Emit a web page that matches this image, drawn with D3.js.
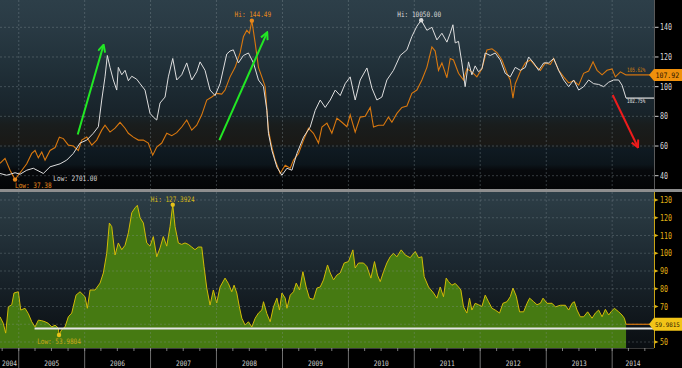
<!DOCTYPE html>
<html><head><meta charset="utf-8">
<script src="https://cdn.jsdelivr.net/npm/d3@7"></script>
<style>html,body{margin:0;padding:0;background:#000;overflow:hidden}</style>
</head><body><svg id="c" width="682" height="368"></svg>
<script>
// ---------------- DATA ----------------
const yearTicks = [2004,2005,2006,2007,2008,2009,2010,2011,2012,2013,2014];
const topTicks = [40,60,80,100,120,140];
const botTicks = [50,60,70,80,90,100,110,120,130];
const timeDomain = [2004.716, 2014.635];

// white series (index, rebased %)
const whiteSeries = [[2004.716,41.5],[2004.818,40.3],[2004.944,42],[2005.020,41],[2005.121,43.7],[2005.221,45],[2005.373,41.5],[2005.475,46],[2005.627,48],[2005.728,50.5],[2005.828,55],[2005.930,62],[2006.032,64],[2006.132,68.6],[2006.208,73],[2006.259,91],[2006.309,106.6],[2006.344,121],[2006.385,113],[2006.435,104.5],[2006.487,97.7],[2006.511,113],[2006.563,108],[2006.613,111],[2006.663,104],[2006.715,107],[2006.790,105],[2006.841,102],[2006.916,97.7],[2006.992,82],[2007.042,79.5],[2007.094,77.5],[2007.144,89],[2007.220,93],[2007.270,106.6],[2007.337,119],[2007.397,104.5],[2007.473,108],[2007.549,116],[2007.625,104.5],[2007.701,110],[2007.751,116.7],[2007.827,111],[2007.903,97.7],[2007.979,94],[2008.055,102],[2008.156,122],[2008.206,124],[2008.256,124.8],[2008.332,116],[2008.408,121],[2008.484,122.7],[2008.560,116],[2008.636,104.5],[2008.712,100],[2008.763,84],[2008.787,68.6],[2008.839,57],[2008.915,45.8],[2008.991,40.3],[2009.067,45],[2009.143,43.7],[2009.218,55],[2009.319,66],[2009.420,72.8],[2009.496,84],[2009.572,91],[2009.648,86],[2009.724,91],[2009.800,97.7],[2009.876,94],[2009.951,102],[2010.027,106.6],[2010.103,91],[2010.179,104.5],[2010.281,112.6],[2010.357,99],[2010.432,91],[2010.508,93],[2010.584,104.5],[2010.684,111],[2010.786,121],[2010.888,124.8],[2010.963,133.8],[2011.039,140.7],[2011.105,144.8],[2011.191,138],[2011.267,140],[2011.343,131.5],[2011.419,136],[2011.495,130],[2011.545,136],[2011.586,141.7],[2011.621,129.5],[2011.671,130.5],[2011.722,116],[2011.772,100],[2011.823,116.7],[2011.874,108],[2011.924,114],[2011.974,110],[2012.026,112],[2012.076,122.7],[2012.152,121],[2012.228,122.7],[2012.304,118],[2012.379,109],[2012.455,106.6],[2012.531,113],[2012.607,111],[2012.683,113],[2012.733,120],[2012.809,116],[2012.885,111],[2012.961,116],[2013.036,116],[2013.112,119],[2013.188,111],[2013.264,104.5],[2013.340,100],[2013.416,104.5],[2013.492,97.7],[2013.567,100],[2013.643,104.5],[2013.719,102],[2013.795,101.5],[2013.871,100],[2013.947,103],[2014.023,104.5],[2014.099,104.5],[2014.150,101],[2014.211,92.3]];

// orange series (rebased %)
const orangeSeries = [[2004.716,48.4],[2004.792,51.7],[2004.868,43.7],[2004.944,37.38],[2005.020,42],[2005.121,48],[2005.197,55],[2005.247,57],[2005.297,52],[2005.349,56],[2005.399,50.5],[2005.475,57],[2005.551,59],[2005.616,66],[2005.677,65],[2005.753,60.6],[2005.828,60],[2005.904,57],[2005.956,64],[2006.032,66],[2006.108,60.6],[2006.183,64],[2006.259,70.7],[2006.309,74],[2006.385,69.4],[2006.461,72],[2006.537,76],[2006.613,72],[2006.663,68.6],[2006.739,66],[2006.815,64],[2006.891,64],[2006.966,62],[2007.033,53.8],[2007.094,59.3],[2007.170,62],[2007.246,68.6],[2007.322,67],[2007.397,69],[2007.473,72.8],[2007.549,77.5],[2007.625,70.7],[2007.701,74],[2007.777,81],[2007.853,91],[2007.929,93],[2008.004,95.5],[2008.080,95],[2008.130,97.7],[2008.206,106.6],[2008.282,113],[2008.358,122.7],[2008.408,133.6],[2008.460,138],[2008.499,136],[2008.536,144.49],[2008.586,129.5],[2008.636,113],[2008.687,106.6],[2008.737,100],[2008.787,70.7],[2008.839,59],[2008.889,50.5],[2008.965,41.5],[2009.041,47],[2009.117,45],[2009.167,50.5],[2009.243,55],[2009.319,64],[2009.394,72],[2009.470,68.6],[2009.546,62],[2009.598,72.8],[2009.674,75.4],[2009.749,68.6],[2009.825,78.8],[2009.901,76],[2009.977,73],[2010.027,81],[2010.103,69.4],[2010.179,79.5],[2010.255,80],[2010.331,86],[2010.381,72.8],[2010.457,74],[2010.533,74],[2010.608,79.5],[2010.660,76],[2010.736,82],[2010.812,86],[2010.888,87],[2010.963,95.5],[2011.039,97.7],[2011.115,104.5],[2011.191,113],[2011.267,126.8],[2011.317,124],[2011.367,111],[2011.419,116],[2011.495,106],[2011.545,119],[2011.595,118],[2011.671,109],[2011.747,104.5],[2011.798,112],[2011.874,110],[2011.950,106.6],[2012.026,112],[2012.102,124.8],[2012.178,125.5],[2012.254,123],[2012.329,118],[2012.405,109],[2012.455,104.5],[2012.496,92.3],[2012.531,102],[2012.607,110],[2012.683,116],[2012.759,118],[2012.835,114],[2012.911,111],[2012.986,116],[2013.062,115],[2013.112,119],[2013.188,111],[2013.264,106.6],[2013.340,102.5],[2013.416,104],[2013.492,101],[2013.567,109],[2013.643,110.5],[2013.710,116.7],[2013.771,111],[2013.847,108],[2013.922,111],[2013.998,112],[2014.049,106.6],[2014.125,110],[2014.211,107.92]];

// lower panel series
const greenSeries = [[2004.716,64.2],[2004.766,60.5],[2004.802,55],[2004.842,69.8],[2004.894,71],[2004.928,77.6],[2004.994,78.3],[2005.030,68],[2005.095,69],[2005.145,66],[2005.197,61.4],[2005.247,58.5],[2005.297,62.3],[2005.349,62],[2005.399,61.4],[2005.449,60.5],[2005.501,58.5],[2005.551,59.5],[2005.601,57.8],[2005.611,53.98],[2005.652,57],[2005.702,58.5],[2005.752,64.2],[2005.804,66.3],[2005.869,76.4],[2005.930,78.3],[2006.006,75.5],[2006.041,69],[2006.082,79.3],[2006.158,79.3],[2006.234,83.2],[2006.284,88.9],[2006.335,100],[2006.375,117],[2006.411,115],[2006.461,99],[2006.511,105.8],[2006.563,102],[2006.613,104.5],[2006.663,111.5],[2006.715,122.8],[2006.765,125.6],[2006.800,127],[2006.841,120],[2006.891,117],[2006.942,105.8],[2006.992,104],[2007.042,109.4],[2007.094,98],[2007.144,103],[2007.194,109.4],[2007.246,104],[2007.296,115],[2007.337,127.39],[2007.372,115],[2007.422,105.8],[2007.473,105],[2007.523,105.8],[2007.573,105],[2007.625,103.5],[2007.675,102],[2007.725,103.5],[2007.777,103.5],[2007.812,92.4],[2007.853,80.4],[2007.903,70.8],[2007.953,79.3],[2008.004,72],[2008.055,81],[2008.130,86],[2008.180,83],[2008.232,78.3],[2008.267,82],[2008.308,77.6],[2008.347,69.8],[2008.384,63.4],[2008.434,59.5],[2008.484,61.4],[2008.536,58.5],[2008.586,63.4],[2008.636,66.3],[2008.687,68],[2008.712,72.7],[2008.763,66],[2008.813,61.4],[2008.863,69.8],[2008.915,74.7],[2008.954,68],[2008.991,77.6],[2009.041,74.7],[2009.067,69],[2009.117,76.4],[2009.167,78.3],[2009.208,83.2],[2009.258,79.3],[2009.309,89.6],[2009.359,81],[2009.409,74.7],[2009.470,74],[2009.522,80.4],[2009.572,81],[2009.622,85],[2009.683,93.4],[2009.724,88.9],[2009.774,85],[2009.825,87.7],[2009.876,88.9],[2009.936,94.5],[2010.001,95.3],[2010.068,101.9],[2010.103,91.7],[2010.153,94.5],[2010.229,94.5],[2010.281,92.5],[2010.341,86],[2010.396,95.3],[2010.441,87.7],[2010.483,84],[2010.533,89.6],[2010.584,94.5],[2010.634,98],[2010.684,100],[2010.736,98],[2010.801,101.9],[2010.862,99],[2010.938,97.5],[2011.014,101],[2011.064,97.5],[2011.115,98],[2011.150,86.8],[2011.216,81],[2011.292,77.6],[2011.343,74.7],[2011.393,81],[2011.443,75.5],[2011.484,86],[2011.519,84],[2011.570,82],[2011.621,83],[2011.671,81],[2011.707,79.3],[2011.747,69.8],[2011.798,66.3],[2011.838,74.7],[2011.874,68],[2011.924,71.8],[2011.974,71],[2012.026,70],[2012.076,76.4],[2012.126,72.7],[2012.178,69],[2012.228,68],[2012.293,66.3],[2012.344,71.8],[2012.405,72.7],[2012.455,75.5],[2012.496,80.4],[2012.546,75.8],[2012.596,67],[2012.657,67],[2012.709,71.8],[2012.748,74.7],[2012.809,72.7],[2012.860,71],[2012.911,71.8],[2012.951,74.7],[2013.012,71.8],[2013.088,71.8],[2013.138,69.8],[2013.214,70.7],[2013.290,70.7],[2013.340,68],[2013.391,71.8],[2013.426,72.7],[2013.467,68],[2013.517,64.2],[2013.567,64.2],[2013.628,67],[2013.695,63.4],[2013.745,66.3],[2013.795,68],[2013.847,64.2],[2013.897,68.4],[2013.947,65.2],[2013.983,67],[2014.033,69],[2014.099,67],[2014.150,65.2],[2014.185,63.4],[2014.211,59.98]];

const whiteLast = {value: 92.3, label: "102.75%"};
const orangeLast = {value: 107.92, label: "105.62%", box: "107.92"};
const greenLast = {value: 59.9815, box: "59.9815"};
const benchmark = {start: 2005.24, value: 57.6};

const topNotes = [
  {t: 2008.536, v: 144.49, text: "Hi: 144.49", color: "#e8891c", dot: true, dx: 1, dy: -3.5, anchor: "middle"},
  {t: 2011.105, v: 144.8, text: "Hi: 10050.00", color: "#d8d8d8", dot: true, dx: -2, dy: -3, anchor: "middle"},
  {t: 2004.944, v: 37.38, text: "Low: 37.38", color: "#e8891c", dot: true, dx: 0, dy: 8.8, anchor: "start"},
  {t: 2005.525, v: 36.7, text: "Low: 2701.00", color: "#d8d8d8", dot: false, dx: 0, dy: 0, anchor: "start"}
];
const botNotes = [
  {t: 2007.337, v: 127.39, text: "Hi: 127.3924", color: "#d8b818", dot: true, dx: 0, dy: -2.4, anchor: "middle"},
  {t: 2005.611, v: 53.98, text: "Low: 53.9804", color: "#c8a818", dot: true, dx: 0, dy: 9.2, anchor: "middle"}
];
const arrows = [
  {from: [2005.895, 67.8], to: [2006.284, 127.7], color: "#22e824"},
  {from: [2008.044, 64.0], to: [2008.763, 136.1], color: "#22e824"},
  {from: [2014.008, 94.4], to: [2014.387, 59.5], color: "#ee1c1c"}
];

// ---------------- LAYOUT ----------------
const PR = 654, T0 = 0, T1 = 189, B0 = 192, B1 = 348, H = 368, W = 682;
const svg = d3.select('#c');
const defs = svg.append('defs');
const dec = t => { const y = Math.floor(t); const s = Date.UTC(y,0,1), e = Date.UTC(y+1,0,1); return new Date(s + (t-y)*(e-s)); };

const x = d3.scaleUtc().domain(timeDomain.map(dec)).range([0, PR]);
const yT = d3.scaleLinear().domain([40,140]).range([175.7, 27.3]);
const yB = d3.scaleLinear().domain([50,130]).range([342, 200]);

function grad(id, stops){
  const g = defs.append('linearGradient').attr('id', id).attr('x1',0).attr('y1',0).attr('x2',0).attr('y2',1);
  stops.forEach(([o,c]) => g.append('stop').attr('offset', o).attr('stop-color', c));
}
grad('gTop', [[0,'#2d3f49'],[0.12,'#2a3b45'],[0.3,'#23333c'],[0.45,'#1d2b33'],[0.6,'#18232a'],[0.66,'#191d1d'],[0.76,'#1a1916'],[0.79,'#0f1a22'],[0.87,'#0c151b'],[0.9,'#07090c'],[1,'#040506']]);
grad('gBot', [[0,'#2d3e47'],[0.2,'#26353d'],[0.45,'#1c2830'],[0.7,'#141c22'],[1,'#0a0e12']]);

defs.append('clipPath').attr('id','cT').append('rect').attr('x',0).attr('y',T0).attr('width',PR).attr('height',T1-T0);
defs.append('clipPath').attr('id','cB').append('rect').attr('x',0).attr('y',B0).attr('width',PR).attr('height',B1-B0);

arrows.forEach((a,i) => {
  defs.append('marker').attr('id','ah'+i).attr('viewBox','0 0 10 10').attr('refX',8).attr('refY',5)
    .attr('markerWidth',4.5).attr('markerHeight',4.5).attr('orient','auto')
    .append('path').attr('d','M1,1 L9,5 L1,9').attr('fill','none').attr('stroke',a.color).attr('stroke-width',2.2);
});

svg.append('rect').attr('width',W).attr('height',H).attr('fill','#000');
svg.append('rect').attr('x',0).attr('y',T0).attr('width',PR).attr('height',T1-T0).attr('fill','url(#gTop)');
svg.append('rect').attr('x',0).attr('y',B0).attr('width',PR).attr('height',B1-B0).attr('fill','url(#gBot)');
svg.append('rect').attr('x',0).attr('y',T1).attr('width',W).attr('height',B0-T1).attr('fill','#8e8e8e');

function txt(g, xx, yy, s, color, size, anchor, cw){
  const t = g.append('text').attr('x',xx).attr('y',yy).text(s).attr('fill',color)
    .attr('font-family','"DejaVu Sans Mono", monospace').attr('font-size',size).attr('text-anchor',anchor||'start');
  if (cw) t.attr('textLength', s.length*cw).attr('lengthAdjust','spacingAndGlyphs');
  return t;
}

const yearDates = yearTicks.map(y => dec(y));
const gridCol = '#8a979c';

// ---------- TOP PANEL ----------
const gT = svg.append('g').attr('clip-path','url(#cT)');
gT.selectAll('line.h').data(topTicks).join('line')
  .attr('x1',0).attr('x2',PR).attr('y1',d=>yT(d)).attr('y2',d=>yT(d))
  .attr('stroke',gridCol).attr('stroke-opacity',0.45).attr('stroke-dasharray','2,2').attr('stroke-width',0.8);
gT.selectAll('line.v').data(yearDates.slice(1)).join('line')
  .attr('x1',d=>x(d)).attr('x2',d=>x(d)).attr('y1',T0).attr('y2',T1)
  .attr('stroke',gridCol).attr('stroke-opacity',0.45).attr('stroke-dasharray','2,2').attr('stroke-width',0.8);

const lineT = d3.line().x(d=>x(dec(d[0]))).y(d=>yT(d[1]));
const endT = whiteSeries[whiteSeries.length-1][0];
gT.append('path').datum(orangeSeries).attr('d',lineT).attr('fill','none').attr('stroke','#d9780f').attr('stroke-width',1.1);
gT.append('path').datum(whiteSeries).attr('d',lineT).attr('fill','none').attr('stroke','#dedede').attr('stroke-width',1);
gT.append('line').attr('x1',x(dec(endT))).attr('x2',PR).attr('y1',yT(orangeLast.value)).attr('y2',yT(orangeLast.value)).attr('stroke','#d9780f').attr('stroke-width',1.2);
gT.append('line').attr('x1',x(dec(endT))).attr('x2',PR).attr('y1',yT(whiteLast.value)).attr('y2',yT(whiteLast.value)).attr('stroke','#e4e4e4').attr('stroke-width',1.2);
txt(gT, x(dec(endT))+1, yT(orangeLast.value)-3.2, orangeLast.label, '#d9820f', 6, 'start', 2.6);
txt(gT, x(dec(endT))+1, yT(whiteLast.value)+5.2, whiteLast.label, '#e4e4e4', 6, 'start', 2.6);

arrows.forEach((a,i) => {
  svg.append('line').attr('x1',x(dec(a.from[0]))).attr('y1',yT(a.from[1])).attr('x2',x(dec(a.to[0]))).attr('y2',yT(a.to[1]))
    .attr('stroke',a.color).attr('stroke-width',2).attr('marker-end','url(#ah'+i+')');
});

topNotes.forEach(n => {
  const px = x(dec(n.t)), py = yT(n.v);
  if (n.dot) svg.append('circle').attr('cx',px).attr('cy',py).attr('r',2.2).attr('fill',n.color);
  txt(svg, px+n.dx, py+n.dy, n.text, n.color, 7.5, n.anchor, 3.65);
});

// top axis
svg.append('line').attr('x1',PR+0.5).attr('x2',PR+0.5).attr('y1',T0).attr('y2',T1).attr('stroke','#5a5a5a');
topTicks.forEach(v => {
  svg.append('line').attr('x1',PR+1).attr('x2',PR+4.5).attr('y1',yT(v)).attr('y2',yT(v)).attr('stroke','#d0d0d0');
  txt(svg, PR+6, yT(v)+3, String(v), '#dadada', 8, 'start', 4);
});
(function(){
  const yy = yT(orangeLast.value);
  svg.append('path').attr('d',`M${PR-5},${yy} L${PR},${yy-6} L${W},${yy-6} L${W},${yy+6} L${PR},${yy+6} Z`).attr('fill','#f0900c');
  txt(svg, PR+1.5, yy+3, orangeLast.box, '#2b1600', 7.5, 'start', 3.95);
})();

// ---------- BOTTOM PANEL ----------
const gB = svg.append('g').attr('clip-path','url(#cB)');
const areaB = d3.area().x(d=>x(dec(d[0]))).y0(B1).y1(d=>yB(d[1]));
const lineB = d3.line().x(d=>x(dec(d[0]))).y(d=>yB(d[1]));
gB.append('path').datum(greenSeries).attr('d',areaB).attr('fill','#467a12');
gB.append('path').datum(greenSeries).attr('d',lineB).attr('fill','none').attr('stroke','#d2bb06').attr('stroke-width',1);
gB.selectAll('line.h').data(botTicks).join('line')
  .attr('x1',0).attr('x2',PR).attr('y1',d=>yB(d)).attr('y2',d=>yB(d))
  .attr('stroke',gridCol).attr('stroke-opacity',0.4).attr('stroke-dasharray','2,2').attr('stroke-width',0.8);
gB.selectAll('line.v').data(yearDates.slice(1)).join('line')
  .attr('x1',d=>x(d)).attr('x2',d=>x(d)).attr('y1',B0).attr('y2',B1)
  .attr('stroke',gridCol).attr('stroke-opacity',0.4).attr('stroke-dasharray','2,2').attr('stroke-width',0.8);
gB.append('line').attr('x1',x(dec(benchmark.start))).attr('x2',PR).attr('y1',yB(benchmark.value)).attr('y2',yB(benchmark.value))
  .attr('stroke','#e6e6e6').attr('stroke-width',1.8);
const endB = greenSeries[greenSeries.length-1][0];
gB.append('line').attr('x1',x(dec(endB))).attr('x2',PR).attr('y1',yB(greenLast.value)).attr('y2',yB(greenLast.value)).attr('stroke','#d9780f').attr('stroke-width',1.2);

botNotes.forEach(n => {
  const px = x(dec(n.t)), py = yB(n.v);
  txt(svg, px+n.dx, py+n.dy, n.text, n.color, 7.5, n.anchor, 3.65);
  if (n.dot) svg.append('circle').attr('cx',px).attr('cy',py).attr('r',2.2).attr('fill','#e8c21a');
});

// bottom axis (the tick under the last-value box is hidden, as in the reference)
svg.append('line').attr('x1',PR+0.5).attr('x2',PR+0.5).attr('y1',B0).attr('y2',B1).attr('stroke','#c9a414');
botTicks.forEach(v => {
  svg.append('path').attr('d',`M${PR+1},${yB(v)-1.5} L${PR+4.5},${yB(v)} L${PR+1},${yB(v)+1.5} Z`).attr('fill','#e0b414');
  if (Math.abs(yB(v) - yB(greenLast.value)) > 8) txt(svg, PR+6, yB(v)+3, String(v), '#e0b414', 8, 'start', 4);
});
(function(){
  const yy = yB(greenLast.value);
  svg.append('path').attr('d',`M${PR-5},${yy} L${PR},${yy-6.5} L${W},${yy-6.5} L${W},${yy+6.5} L${PR},${yy+6.5} Z`).attr('fill','#f2c418');
  txt(svg, PR+1, yy+2.8, greenLast.box, '#2b2000', 6.2, 'start', 3.55);
})();

// ---------- X AXIS ----------
svg.append('rect').attr('x',0).attr('y',B1).attr('width',W).attr('height',H-B1).attr('fill','#000');
svg.append('line').attr('x1',0).attr('x2',PR).attr('y1',B1+0.5).attr('y2',B1+0.5).attr('stroke','#3a3a3a');
const quarters = d3.utcMonth.every(3).range(dec(timeDomain[0]), dec(timeDomain[1]));
svg.selectAll('line.q').data(quarters).join('line')
  .attr('x1',d=>x(d)).attr('x2',d=>x(d)).attr('y1',B1).attr('y2',B1+3).attr('stroke','#9a9a9a').attr('stroke-width',0.8);
svg.selectAll('line.yr').data(yearDates.filter(d => x(d) > 0 && x(d) < PR)).join('line')
  .attr('x1',d=>x(d)).attr('x2',d=>x(d)).attr('y1',B1).attr('y2',H).attr('stroke','#8a8a8a').attr('stroke-width',0.8);
yearTicks.forEach(y => {
  const a = Math.max(0, x(dec(y))), b = Math.min(PR, x(dec(y+1)));
  let cx = (a+b)/2; if (cx < 7) cx = 7;
  txt(svg, cx, 366, String(y), '#cfcfcf', 7.5, 'middle', 3.75);
});
</script></body></html>
